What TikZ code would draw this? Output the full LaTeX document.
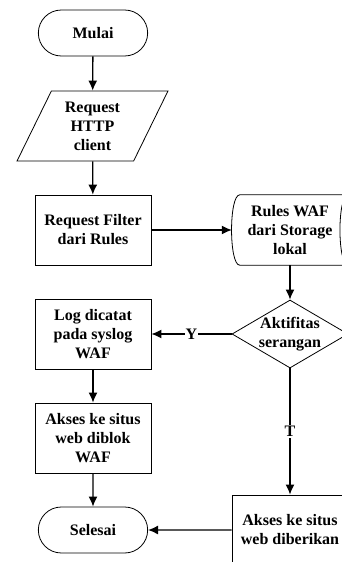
\documentclass[tikz,border=0pt]{standalone}
\usepackage{fontspec}
\setmainfont{Liberation Serif}
\usetikzlibrary{arrows.meta,shapes.geometric,shapes.misc}
\begin{document}
\begin{tikzpicture}[x=1pt, y=1pt, >={Latex[length=10pt,width=9pt]},
  every node/.style={font=\fontsize{16}{19}\selectfont\bfseries, align=center},
  terminal/.style={draw, rounded rectangle, minimum width=116pt, minimum height=46pt, line width=.8pt},
  proses/.style={draw, rectangle, minimum width=116pt, minimum height=70pt, line width=.8pt},
  masukan/.style={draw, trapezium, trapezium left angle=65, trapezium right angle=115, trapezium stretches=true, minimum width=151pt, minimum height=70pt, line width=.8pt},
  keputusan/.style={draw, diamond, minimum width=116pt, minimum height=68pt, inner sep=0pt, line width=.8pt},
  panah/.style={->, line width=1.3pt}]
\useasboundingbox (0,0) rectangle (342,-562);
\node[terminal] (mulai) at (93,-33) {Mulai};
\node[masukan] (req) at (92.5,-126) {Request\\HTTP\\client};
\node[proses] (filter) at (93,-230) {Request Filter\\dari Rules};
\node[minimum width=116pt, minimum height=70pt] (rules) at (290,-230) {Rules WAF\\dari Storage\\lokal};
\draw[line width=.8pt] ([xshift=8pt]rules.north west) -- (rules.north east)
  .. controls ([xshift=-11pt]rules.north east) and ([xshift=-11pt]rules.south east) .. (rules.south east)
  -- ([xshift=8pt]rules.south west)
  .. controls ([xshift=-3pt]rules.south west) and ([xshift=-3pt]rules.north west) .. cycle;
\node[keputusan] (cek) at (290,-334) {};
\node (cektxt) at (cek) {Aktifitas\\serangan};
\node[proses] (log) at (93,-334) {Log dicatat\\pada syslog\\WAF};
\node[proses] (blok) at (93,-438) {Akses ke situs\\web diblok\\WAF};
\node[terminal] (selesai) at (93,-530) {Selesai};
\node[proses] (beri) at (290,-530) {Akses ke situs\\web diberikan};
% alur
\draw[panah] (mulai) -- (req);
\draw[panah] (req) -- (filter);
\draw[panah] (filter) -- (rules);
\draw[panah] (rules) -- (cek);
\draw[panah] (cek) -- node[fill=white, inner sep=1pt]{Y} (log);
\draw[panah] (log) -- (blok);
\draw[panah] (blok) -- (selesai);
\draw[panah] (cek) -- node[fill=white, inner sep=1pt]{T} (beri);
\draw[panah] (beri) -- (selesai);
\end{tikzpicture}
\end{document}
